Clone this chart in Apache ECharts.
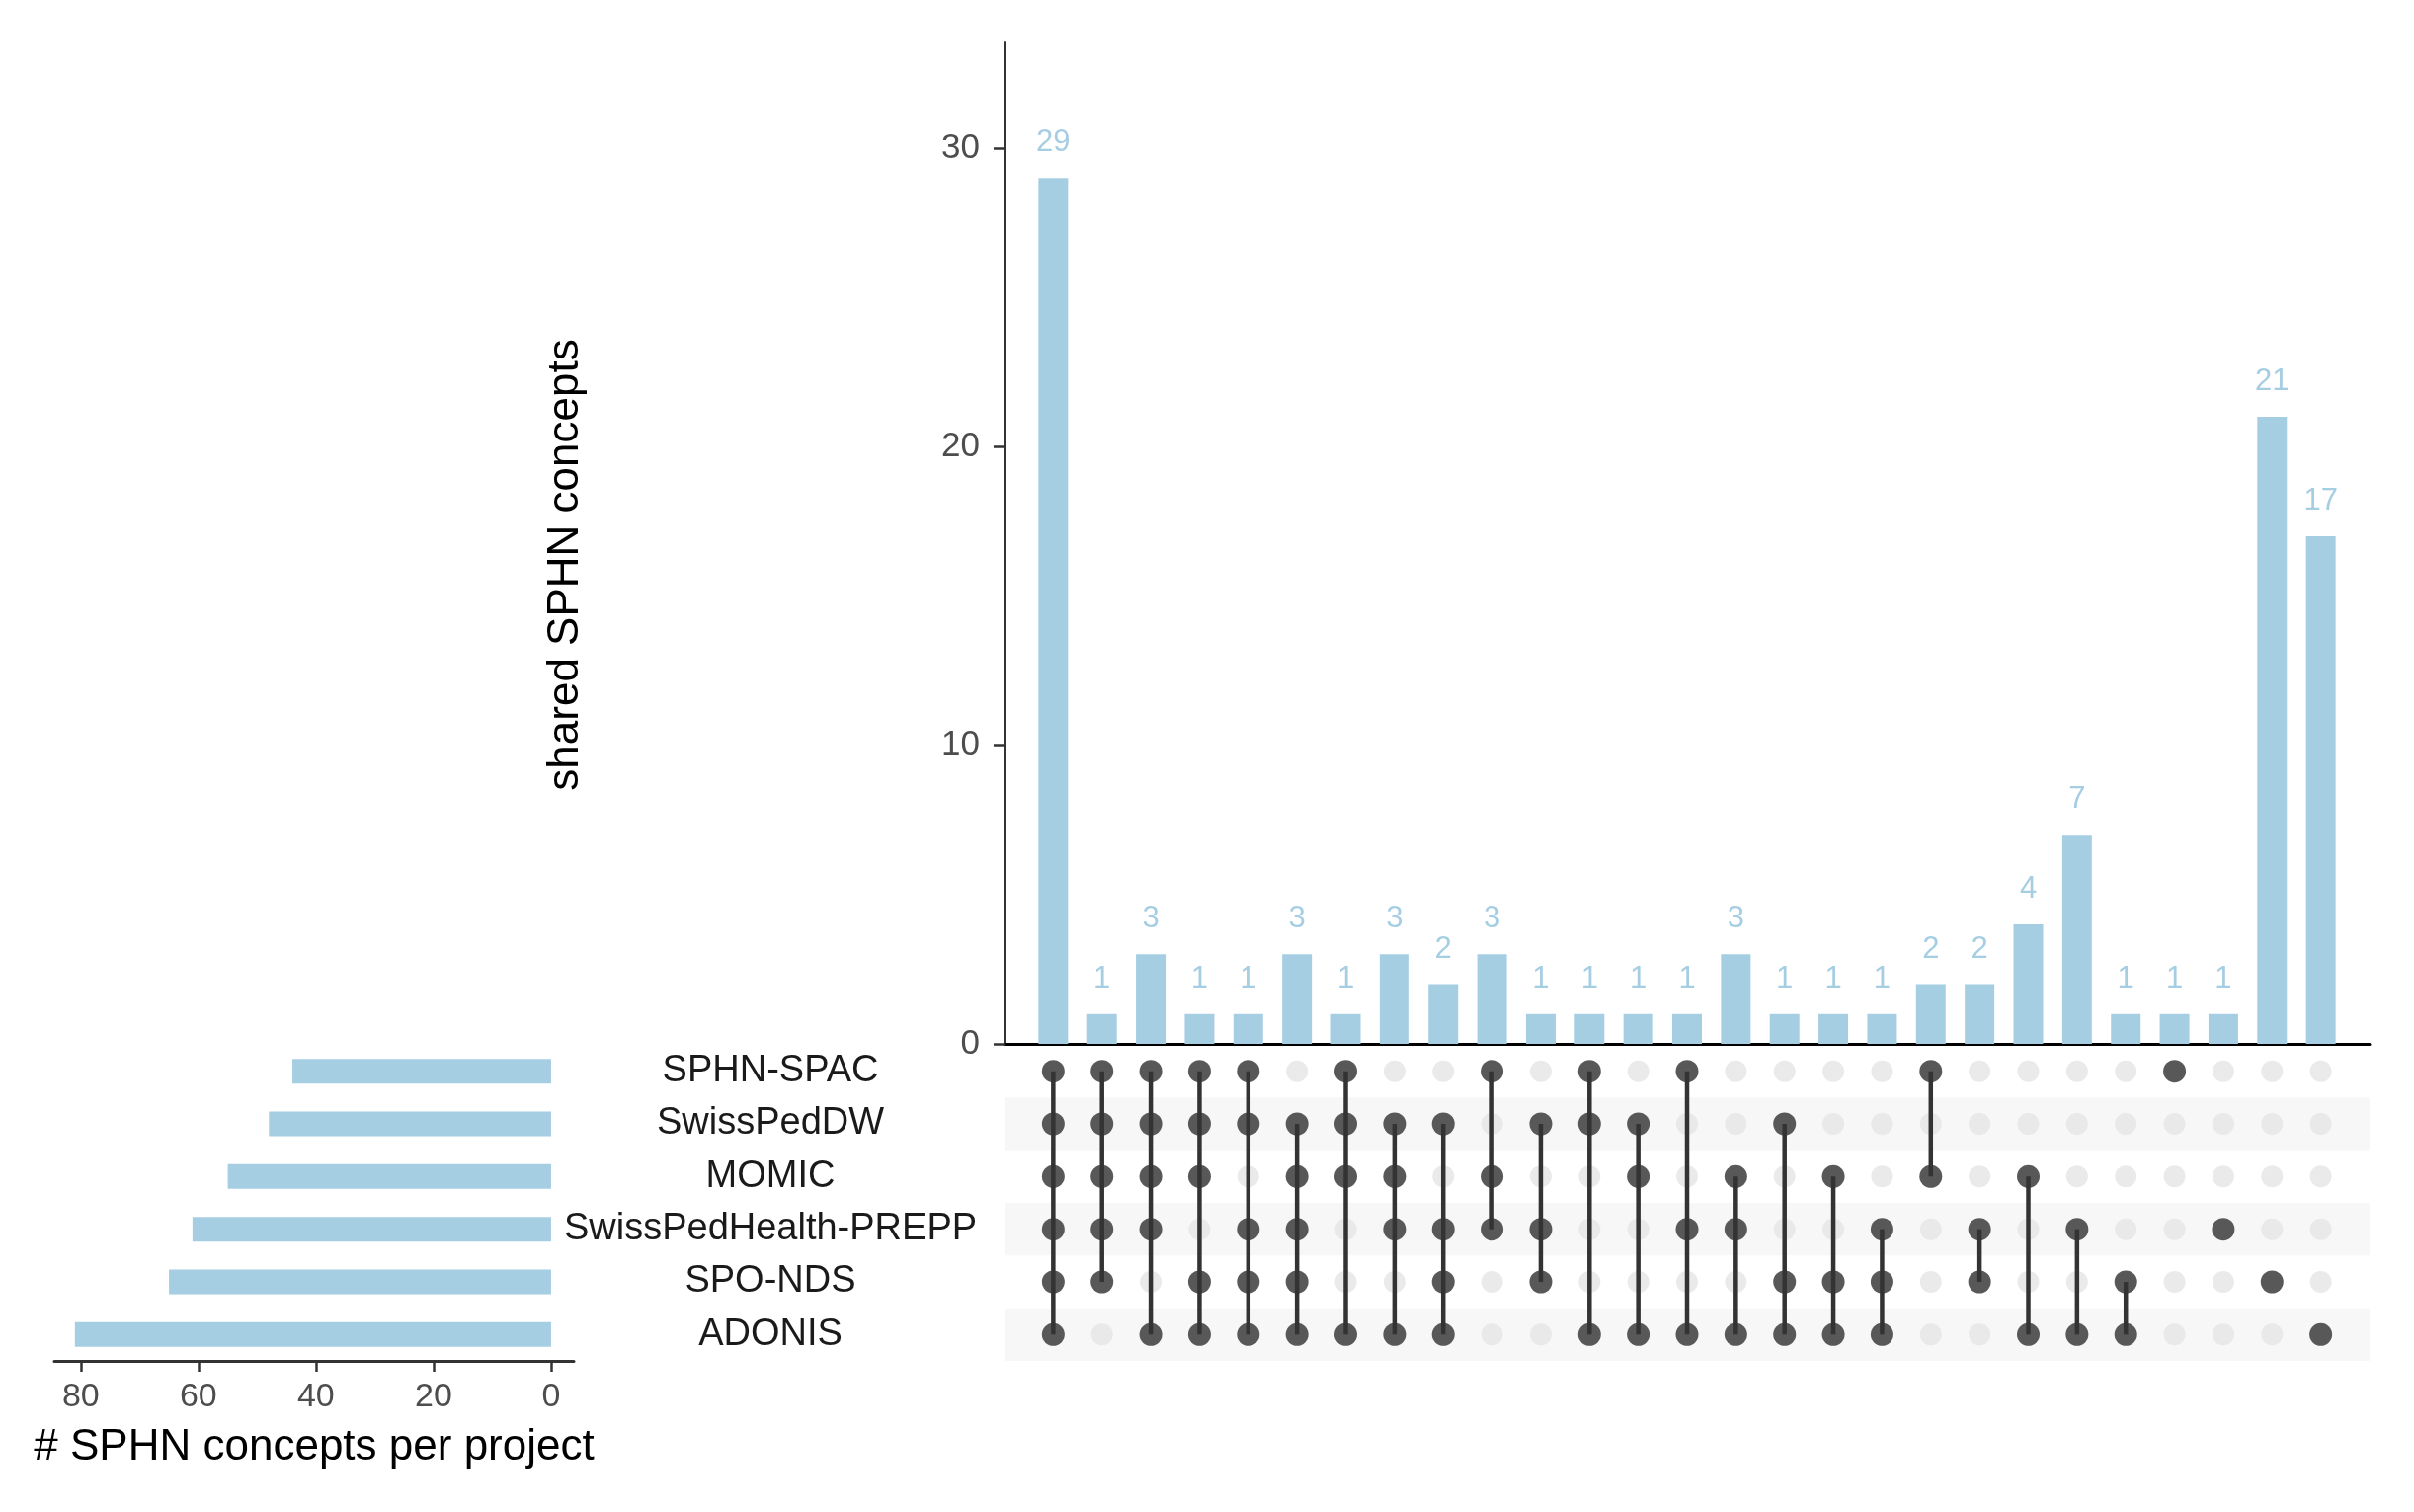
<!DOCTYPE html>
<html>
<head>
<meta charset="utf-8">
<script src="https://cdn.jsdelivr.net/npm/echarts@6/dist/echarts.min.js"></script>
<style>
html,body{margin:0;padding:0;background:#fff;}
#chart{width:2444px;height:1531px;}
</style>
</head>
<body>
<div id="chart"></div>
<script>
// ---- data ----
var setNames = ['SPHN-SPAC', 'SwissPedDW', 'MOMIC', 'SwissPedHealth-PREPP', 'SPO-NDS', 'ADONIS'];
var setSizes = [44, 48, 55, 61, 65, 81];
var intersectValues = [29, 1, 3, 1, 1, 3, 1, 3, 2, 3, 1, 1, 1, 1, 3, 1, 1, 1, 2, 2, 4, 7, 1, 1, 1, 21, 17];
// membership of each intersection column (indices into setNames)
var intersectSets = [
  [0,1,2,3,4,5], [0,1,2,3,4], [0,1,2,3,5], [0,1,2,4,5], [0,1,3,4,5], [1,2,3,4,5],
  [0,1,2,5], [1,2,3,5], [1,3,4,5], [0,2,3], [1,3,4], [0,1,5], [1,2,5], [0,3,5],
  [2,3,5], [1,4,5], [2,4,5], [3,4,5], [0,2], [3,4], [2,5], [3,5], [4,5],
  [0], [3], [4], [5]
];
var topTicks = [0, 10, 20, 30];
var leftTicks = [0, 20, 40, 60, 80];

// ---- derived series data ----
var barData = intersectValues.map(function (v, i) { return [i + 1, v]; });
var greyDots = [];
for (var c = 0; c < intersectValues.length; c++) {
  for (var r = 0; r < setNames.length; r++) greyDots.push([c + 1, r]);
}
var darkDots = [];
var segs = [];
intersectSets.forEach(function (sets, i) {
  sets.forEach(function (r) { darkDots.push([i + 1, r]); });
  if (sets.length > 1) segs.push([i + 1, Math.min.apply(null, sets), Math.max.apply(null, sets)]);
});

var FONT = 'Liberation Sans, Arial, Helvetica, sans-serif';
var BLUE = '#a6cee3';
var DARK = '#333333';

var chart = echarts.init(document.getElementById('chart'), null, {renderer: 'canvas'});
chart.setOption({
  backgroundColor: '#ffffff',
  animation: false,
  textStyle: {fontFamily: FONT},
  grid: [
    {left: 1017, top: 43, width: 1382, height: 1014},
    {left: 1017, top: 1058, width: 1382, height: 320},
    {left: 55, top: 1058, width: 526, height: 320}
  ],
  xAxis: [
    {
      gridIndex: 0, type: 'value', min: 0, max: 28,
      axisLine: {show: true, onZero: false, lineStyle: {color: '#000', width: 3}},
      axisTick: {show: false}, axisLabel: {show: false}, splitLine: {show: false}
    },
    {
      gridIndex: 1, type: 'value', min: 0, max: 28, show: false
    },
    {
      gridIndex: 2, type: 'value', min: -3.87, max: 84.5, inverse: true,
      axisLine: {show: true, onZero: false, lineStyle: {color: DARK, width: 3}},
      axisTick: {show: true, customValues: leftTicks, length: 11, lineStyle: {color: DARK, width: 2.5}},
      axisLabel: {show: true, customValues: leftTicks, fontSize: 34, color: '#4d4d4d', margin: 20, fontFamily: FONT},
      splitLine: {show: false},
      name: '# SPHN concepts per project', nameLocation: 'middle', nameGap: 66,
      nameTextStyle: {fontSize: 44, color: '#000', fontFamily: FONT}
    }
  ],
  yAxis: [
    {
      gridIndex: 0, type: 'value', min: 0, max: 33.54,
      axisLine: {show: true, lineStyle: {color: DARK, width: 2}},
      axisTick: {show: true, customValues: topTicks, length: 11, lineStyle: {color: DARK, width: 2.5}},
      axisLabel: {show: true, customValues: topTicks, fontSize: 35, color: '#4d4d4d', margin: 25, fontFamily: FONT},
      splitLine: {show: false},
      name: 'shared SPHN concepts', nameLocation: 'middle', nameGap: 422,
      nameTextStyle: {fontSize: 44, color: '#000', fontFamily: FONT, padding: [0, 44, 0, 0]}
    },
    {
      gridIndex: 1, type: 'category', data: setNames, inverse: true,
      axisLine: {show: false}, axisTick: {show: false}, axisLabel: {show: false},
      splitLine: {show: false},
      splitArea: {show: true, areaStyle: {color: ['rgba(255,255,255,0)', '#f7f7f7']}}
    },
    {
      gridIndex: 2, type: 'category', data: setNames, inverse: true, position: 'right',
      axisLine: {show: false}, axisTick: {show: false},
      axisLabel: {show: true, fontSize: 38, color: '#1a1a1a', align: 'center', margin: 199, fontFamily: FONT},
      splitLine: {show: false}
    }
  ],
  series: [
    {
      type: 'bar', xAxisIndex: 0, yAxisIndex: 0, data: barData, barWidth: 30,
      itemStyle: {color: BLUE},
      label: {show: true, position: 'top', distance: 20, fontSize: 31, color: BLUE, fontFamily: FONT,
        formatter: function (p) { return p.value[1]; }}
    },
    {
      type: 'scatter', xAxisIndex: 1, yAxisIndex: 1, data: greyDots, symbolSize: 22,
      itemStyle: {color: '#e5e5e5'}, z: 2
    },
    {
      type: 'custom', xAxisIndex: 1, yAxisIndex: 1, data: segs, z: 3,
      renderItem: function (params, api) {
        var p1 = api.coord([api.value(0), api.value(1)]);
        var p2 = api.coord([api.value(0), api.value(2)]);
        return {type: 'line', shape: {x1: p1[0], y1: p1[1], x2: p2[0], y2: p2[1]},
          style: {stroke: DARK, lineWidth: 4.5}};
      }
    },
    {
      type: 'scatter', xAxisIndex: 1, yAxisIndex: 1, data: darkDots, symbolSize: 23,
      itemStyle: {color: DARK}, z: 4
    },
    {
      type: 'bar', xAxisIndex: 2, yAxisIndex: 2, data: setSizes, barWidth: 25,
      itemStyle: {color: BLUE}
    }
  ]
});
</script>
</body>
</html>
